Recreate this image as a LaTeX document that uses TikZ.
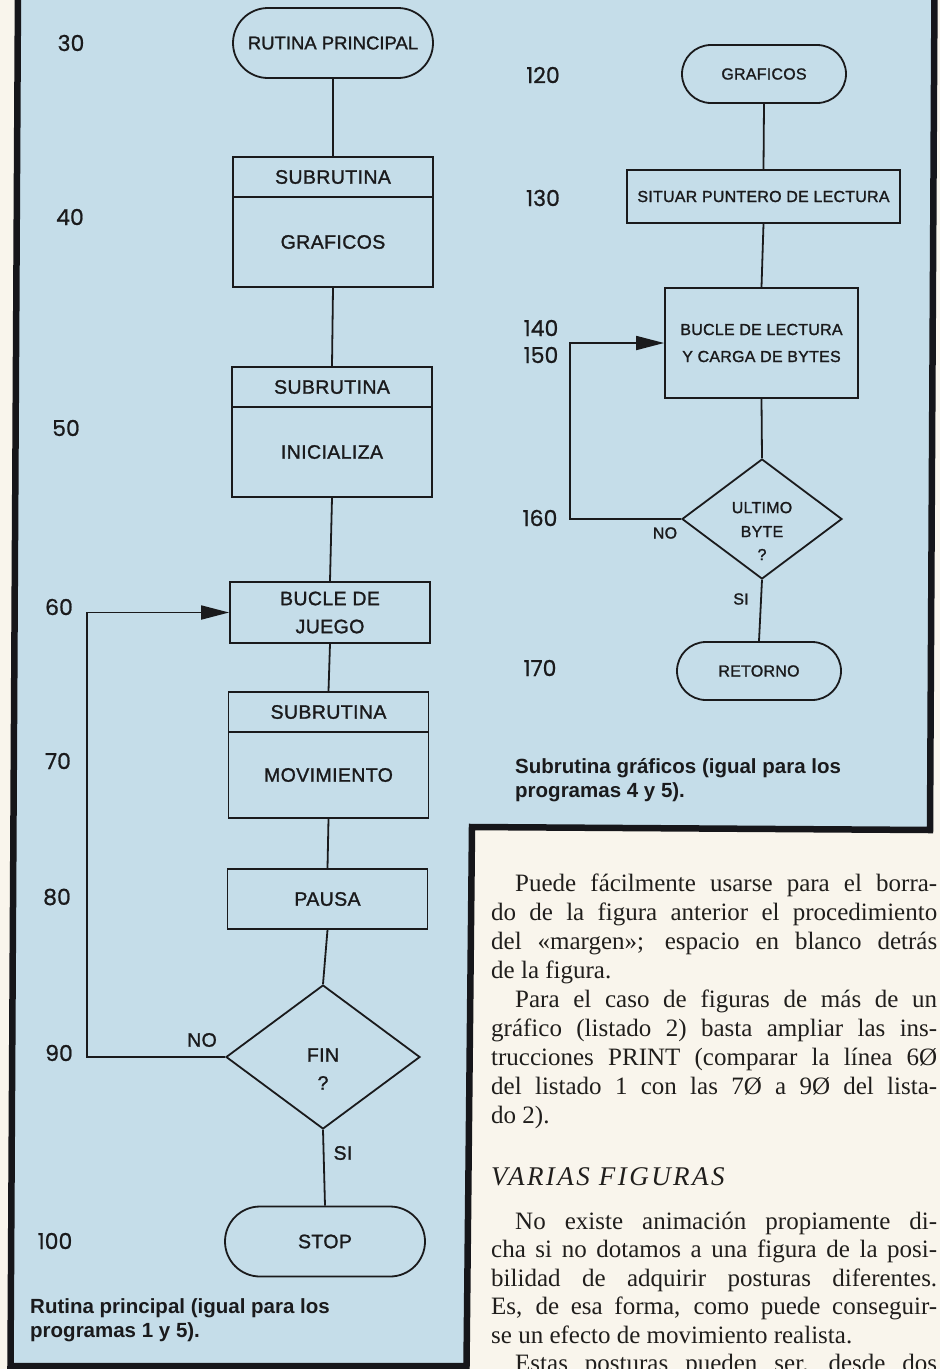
\documentclass[tikz,border=0pt]{standalone}
\usepackage{fontspec}
\setmainfont{Liberation Serif}
\newfontfamily\flowfamA[LetterSpace=2,FakeBold=1.3]{Liberation Sans}
\newfontfamily\flowfamB[LetterSpace=1.5,FakeBold=1.3]{Liberation Sans}
\newfontfamily\flowfamC[FakeBold=1.3]{Liberation Sans}
\newfontfamily\numfam[FakeBold=0.8]{Poppins}
\newfontfamily\capfam{Liberation Sans}
\newfontfamily\headfam[LetterSpace=9]{Liberation Serif}
\newcommand\flowL{\flowfamA\fontsize{19.5}{28}\selectfont}
\newcommand\flowR{\flowfamB\fontsize{16}{27}\selectfont}
\newcommand\flowT{\flowfamC\fontsize{18.5}{22}\selectfont}
\newcommand\numF{\numfam\fontsize{22}{24}\selectfont}
\newcommand\capF{\capfam\bfseries\fontsize{20.5}{24}\selectfont}
\newcommand\bodyF{\rmfamily\fontsize{25}{29}\selectfont}
\newcommand\headF{\headfam\itshape\fontsize{27}{30}\selectfont}
\usetikzlibrary{shapes.geometric,arrows.meta}
\definecolor{panel}{RGB}{197,221,233}
\definecolor{paper}{RGB}{249,245,236}
\definecolor{ink}{RGB}{26,26,28}
\definecolor{rim}{RGB}{22,22,26}
\definecolor{bodyink}{RGB}{32,30,28}
\begin{document}
\begin{tikzpicture}[x=1pt,y=-1pt,
  conn/.style={draw=ink,line width=1.8pt},
  arr/.style={conn,-{Triangle[length=28pt,width=14pt]}},
  termL/.style={conn,rectangle,rounded corners=35pt,minimum width=200pt,minimum height=70pt,inner sep=0pt,text=ink,font=\flowL},
  termR/.style={conn,rectangle,rounded corners=29pt,minimum width=164pt,minimum height=58pt,inner sep=0pt,text=ink,font=\flowR},
  boxL/.style={conn,rectangle,minimum width=200pt,inner sep=0pt,text=ink,font=\flowL,align=center},
  boxR/.style={conn,rectangle,inner sep=0pt,text=ink,font=\flowR,align=center},
  decide/.style={conn,diamond,inner sep=0pt},
  lblL/.style={text=ink,font=\flowL,inner sep=0pt,align=center},
  lblR/.style={text=ink,font=\flowR,inner sep=0pt,align=center},
  numtxt/.style={text=ink,font=\numF,inner sep=0pt},
  captxt/.style={text=ink,font=\capF,inner sep=0pt,anchor=base west},
  bodytxt/.style={text=bodyink,font=\bodyF,inner sep=0pt,anchor=base west},
  headtxt/.style={text=bodyink,font=\headF,inner sep=0pt,anchor=base west}
]
\useasboundingbox (0,0) rectangle (940,1369);
\clip (0,0) rectangle (940,1369);
\fill[paper] (0,0) rectangle (940,1369);
% panel with its thick frame
\draw[fill=panel,draw=rim,line width=6.5pt,line join=miter]
  (18,-10) -- (10.5,1366) -- (466.5,1366) -- (472,827) -- (930,830) -- (934.5,-10) -- cycle;

% ---------- left chart ----------
\node[termL,font=\flowT] (t1) at (333,43) {RUTINA PRINCIPAL};
\node[boxL,minimum height=40pt] (b1a) at (333,177) {SUBRUTINA};
\node[boxL,minimum height=90pt] (b1b) at (333,242) {GRAFICOS};
\node[boxL,minimum height=40pt] (b2a) at (332,387) {SUBRUTINA};
\node[boxL,minimum height=90pt] (b2b) at (332,452) {INICIALIZA};
\node[boxL,minimum height=61pt] (b3) at (330,612.5) {BUCLE DE\\JUEGO};
\node[boxL,minimum height=40pt] (b4a) at (328.5,712) {SUBRUTINA};
\node[boxL,minimum height=86pt] (b4b) at (328.5,775) {MOVIMIENTO};
\node[boxL,minimum height=60pt] (b5) at (327.5,899) {PAUSA};
\node[decide,minimum width=194pt,minimum height=144pt] (d1) at (323,1057) {};
\node[lblL] (d1t) at (323,1069) {FIN\\?};
\node[termL] (t2) at (325,1241.5) {STOP};

\draw[conn] (t1.south) -- (b1a.north);
\draw[conn] (b1b.south) -- (b2a.north);
\draw[conn] (b2b.south) -- (b3.north);
\draw[conn] (b3.south) -- (b4a.north);
\draw[conn] (b4b.south) -- (b5.north);
\draw[conn] (b5.south) -- (d1.north);
\draw[conn] (d1.south) -- (t2.north);
\coordinate (lpL) at (87,1057);
\draw[arr] (d1.west) -- (lpL) |- (b3.west);
\node[lblL] (noL) at (202,1040) {NO};
\node[lblL] (siL) at (343,1153) {SI};

\node[numtxt] (n30) at (71,43) {30};
\node[numtxt] (n40) at (70,217) {40};
\node[numtxt] (n50) at (66,428) {50};
\node[numtxt] (n60) at (59,607) {60};
\node[numtxt] (n70) at (58,761) {70};
\node[numtxt] (n80) at (57,897) {80};
\node[numtxt] (n90) at (59,1053) {90};
\node[numtxt] (n100) at (55,1241) {100};

\node[captxt] (capL1) at (30,1313) {Rutina principal (igual para los};
\node[captxt] (capL2) at (30,1337) {programas 1 y 5).};

% ---------- right chart ----------
\node[termR] (t3) at (764,74) {GRAFICOS};
\node[boxR,minimum width=273pt,minimum height=53pt] (r1) at (763.5,196.5) {SITUAR PUNTERO DE LECTURA};
\node[boxR,minimum width=193pt,minimum height=110pt] (r2) at (761.5,343) {BUCLE DE LECTURA\\Y CARGA DE BYTES};
\node[decide,minimum width=160pt,minimum height=120pt] (d2) at (762,519) {};
\node[lblR] (d2t) at (762,531) {ULTIMO\\[-3pt]BYTE\\[-4pt]?};
\node[termR] (t4) at (759,671) {RETORNO};

\draw[conn] (t3.south) -- (r1.north);
\draw[conn] (r1.south) -- (r2.north);
\draw[conn] (r2.south) -- (d2.north);
\draw[conn] (d2.south) -- (t4.north);
\coordinate (lpR) at (570,519);
\draw[arr] (d2.west) -- (lpR) |- (r2.west);
\node[lblR] (noR) at (665,533) {NO};
\node[lblR] (siR) at (741,599) {SI};

\node[numtxt] (n120) at (543,75) {120};
\node[numtxt] (n130) at (543,198) {130};
\node[numtxt] (n140) at (541,328) {140};
\node[numtxt] (n150) at (541,355) {150};
\node[numtxt] (n160) at (540,518) {160};
\node[numtxt] (n170) at (540,668) {170};

\node[captxt] (capR1) at (515,773) {Subrutina gráficos (igual para los};
\node[captxt] (capR2) at (515,797) {programas 4 y 5).};

% ---------- running text ----------
\node[bodytxt] (l1) at (515,891) {\makebox[422pt][s]{Puede fácilmente usarse para el borra-}};
\node[bodytxt] (l2) at (491,920) {\makebox[446pt][s]{do de la figura anterior el procedimiento}};
\node[bodytxt] (l3) at (491,949) {\makebox[446pt][s]{del «margen»; espacio en blanco detrás}};
\node[bodytxt] (l4) at (491,978) {de la figura.};
\node[bodytxt] (l5) at (515,1007) {\makebox[422pt][s]{Para el caso de figuras de más de un}};
\node[bodytxt] (l6) at (491,1036) {\makebox[446pt][s]{gráfico (listado 2) basta ampliar las ins-}};
\node[bodytxt] (l7) at (491,1065) {\makebox[446pt][s]{trucciones PRINT (comparar la línea 6Ø}};
\node[bodytxt] (l8) at (491,1094) {\makebox[446pt][s]{del listado 1 con las 7Ø a 9Ø del lista-}};
\node[bodytxt] (l9) at (491,1123) {do 2).};
\node[headtxt] (h1) at (491,1185) {VARIAS FIGURAS};
\node[bodytxt] (m1) at (515,1229) {\makebox[422pt][s]{No existe animación propiamente di-}};
\node[bodytxt] (m2) at (491,1257.6) {\makebox[446pt][s]{cha si no dotamos a una figura de la posi-}};
\node[bodytxt] (m3) at (491,1286.2) {\makebox[446pt][s]{bilidad de adquirir posturas diferentes.}};
\node[bodytxt] (m4) at (491,1314.8) {\makebox[446pt][s]{Es, de esa forma, como puede conseguir-}};
\node[bodytxt] (m5) at (491,1343.4) {se un efecto de movimiento realista.};
\node[bodytxt] (m6) at (515,1371) {\makebox[422pt][s]{Estas posturas pueden ser, desde dos}};
\end{tikzpicture}
\end{document}
